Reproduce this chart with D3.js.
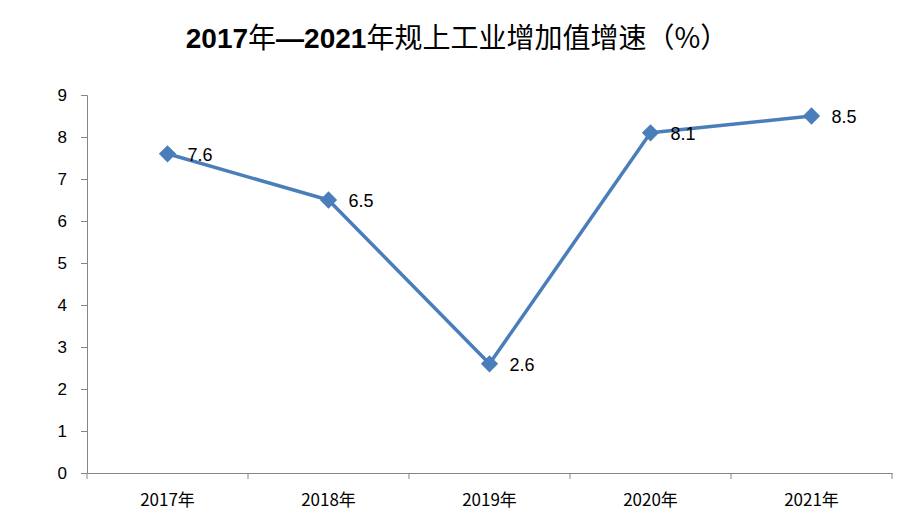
<!DOCTYPE html>
<html>
<head>
<meta charset="utf-8">
<script src="https://cdn.jsdelivr.net/npm/d3@7"></script>
<style>
  body { margin: 0; background: #fff; }
</style>
</head>
<body>
<script>
const width = 918;
const height = 529;

// 数据
const years = ["2017年", "2018年", "2019年", "2020年", "2021年"];
const growth = [7.6, 6.5, 2.6, 8.1, 8.5];
const yTicks = [0, 1, 2, 3, 4, 5, 6, 7, 8, 9];
// 标题分段：[文字, 是否加粗]
const titleParts = [["2017", true], ["年", false], ["—", true], ["2021", true], ["年规上工业增加值增速（%）", false]];

const margin = { top: 95, right: 26, bottom: 56, left: 87 };

let svg = d3.select("body").append("svg")
    .attr("width", width)
    .attr("height", height);

// 标题
svg.append("text")
    .attr("x", 457)
    .attr("y", 48)
    .attr("text-anchor", "middle")
    .attr("font-size", 28)
    .attr("fill", "#000")
    .selectAll("tspan")
    .data(titleParts)
    .enter()
    .append("tspan")
    .attr("font-family", d => d[1] ? "'Liberation Sans', sans-serif" : "'Noto Sans CJK SC', sans-serif")
    .attr("font-weight", d => d[1] ? "bold" : "normal")
    .text(d => d[0]);

let x = d3.scaleBand()
    .domain(years)
    .range([margin.left, width - margin.right]);

let y = d3.scaleLinear()
    .domain([0, 9])
    .range([height - margin.bottom, margin.top]);

// y轴
let yAxis = svg.append("g")
    .attr("transform", `translate(${margin.left},0)`)
    .call(d3.axisLeft(y).tickValues(yTicks).tickSize(6).tickPadding(14));
yAxis.select(".domain").attr("stroke", "#868686");
yAxis.selectAll(".tick line").attr("stroke", "#868686");
yAxis.selectAll("text")
    .attr("font-family", "'Liberation Sans', 'DejaVu Sans', sans-serif")
    .attr("font-size", 17)
    .attr("fill", "#000");

// x轴
let xAxis = svg.append("g")
    .attr("transform", `translate(0,${height - margin.bottom})`)
    .call(d3.axisBottom(x).tickSize(0).tickPadding(21));
xAxis.select(".domain").attr("stroke", "#868686");
xAxis.selectAll(".tick line").remove();
xAxis.selectAll("text")
    .attr("font-family", "'Noto Sans CJK SC', sans-serif")
    .attr("font-size", 17)
    .attr("fill", "#000");

// 分类间隔刻度
let edges = years.map(d => x(d)).concat([x(years[years.length - 1]) + x.bandwidth()]);
svg.append("g").selectAll("line")
    .data(edges)
    .enter()
    .append("line")
    .attr("x1", d => d).attr("x2", d => d)
    .attr("y1", height - margin.bottom)
    .attr("y2", height - margin.bottom + 6)
    .attr("stroke", "#868686");

let cx = d => x(d) + x.bandwidth() / 2;

// 折线
let line = d3.line()
    .x((d, i) => cx(years[i]))
    .y(d => y(d));

svg.append("path")
    .datum(growth)
    .attr("fill", "none")
    .attr("stroke", "#4a7ebb")
    .attr("stroke-width", 3.5)
    .attr("stroke-linejoin", "round")
    .attr("d", line);

// 标记点
svg.append("g").selectAll("path")
    .data(growth)
    .enter()
    .append("path")
    .attr("transform", (d, i) => `translate(${cx(years[i])},${y(d)})`)
    .attr("d", d3.symbol().type(d3.symbolDiamond2).size(190))
    .attr("fill", "#4a7ebb");

// 数据标签
svg.append("g").selectAll("text")
    .data(growth)
    .enter()
    .append("text")
    .attr("x", (d, i) => cx(years[i]) + 20)
    .attr("y", d => y(d) + 7)
    .attr("font-family", "'Liberation Sans', 'DejaVu Sans', sans-serif")
    .attr("font-size", 18)
    .attr("fill", "#000")
    .text(d => d.toFixed(1));
</script>
</body>
</html>
